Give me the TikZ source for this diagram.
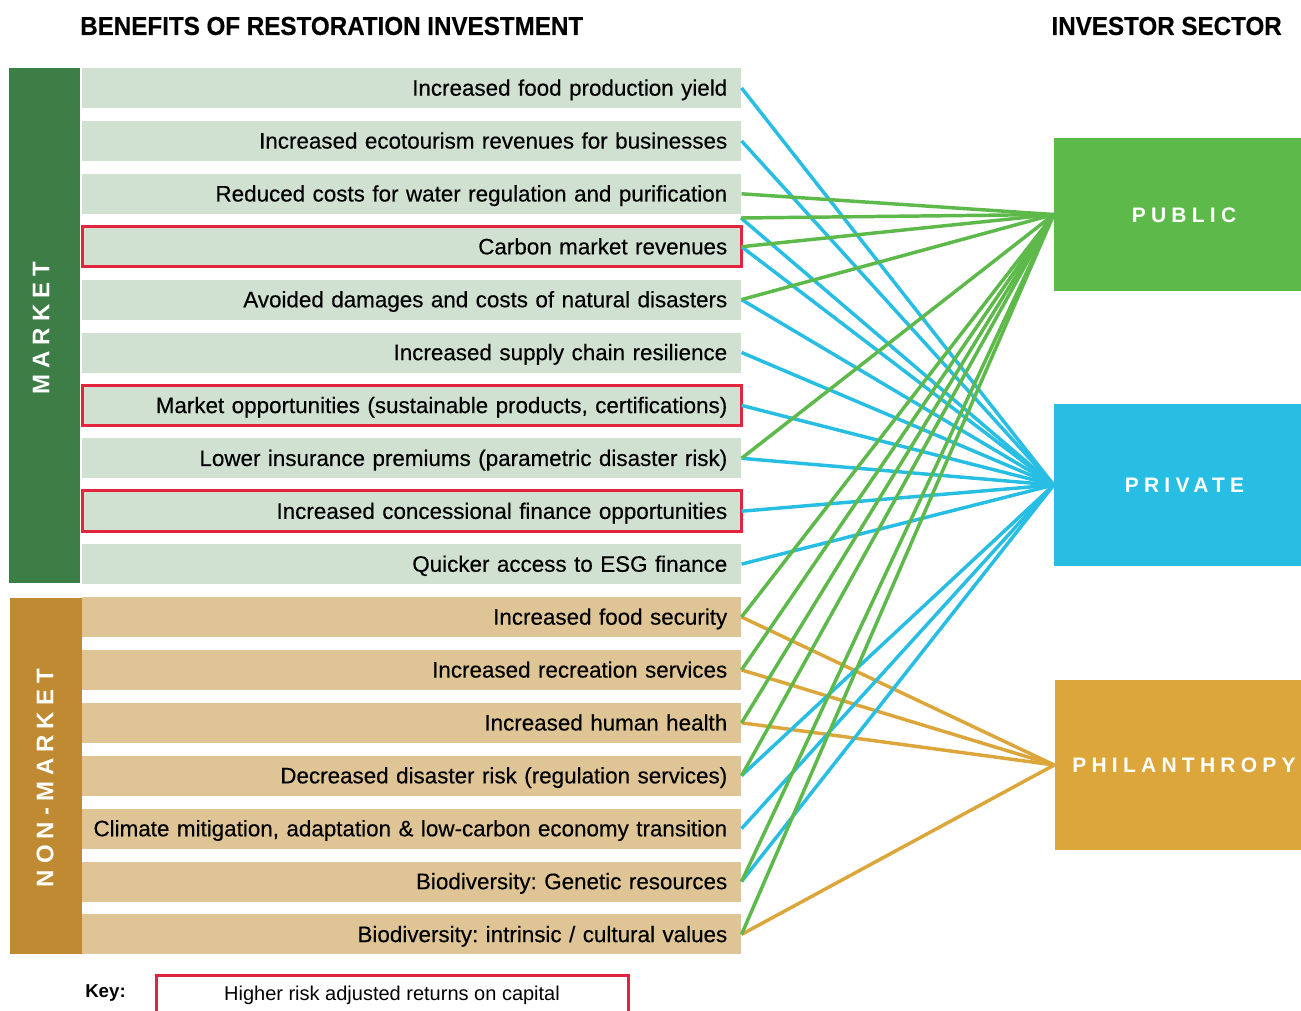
\documentclass[tikz,border=0pt]{standalone}
\usepackage{fontspec}
\setmainfont{Liberation Sans}
\newfontfamily\rowfont{Liberation Sans}[FakeBold=0.35]
\newfontfamily\titlefont{Liberation Sans Bold}[FakeStretch=0.93, FakeBold=0.4]
\newfontfamily\spacedfont{Liberation Sans}[LetterSpace=25]
\newfontfamily\vspacedfont{Liberation Sans}[LetterSpace=25]
\usetikzlibrary{fit}
\definecolor{mktdark}{HTML}{3D7D46}
\definecolor{mktlight}{HTML}{D0E0D1}
\definecolor{nmdark}{HTML}{BF8A31}
\definecolor{nmlight}{HTML}{DFC595}
\definecolor{redc}{HTML}{E2253D}
\definecolor{pubc}{HTML}{5CB94A}
\definecolor{privc}{HTML}{28BDE3}
\definecolor{philc}{HTML}{DCA63B}
\frenchspacing
\begin{document}
\begin{tikzpicture}[x=0.75pt,y=-0.75pt,
  rowbase/.style={anchor=west, minimum height=30pt, text width=473.25pt, align=right,
    inner xsep=10.5pt, inner ysep=0pt, text height=13.5pt, text depth=2pt,
    font=\rowfont\fontsize{16.8}{18}\selectfont},
  mrow/.style={rowbase, fill=mktlight},
  nrow/.style={rowbase, fill=nmlight},
  redbox/.style={draw=redc, line width=2.25pt, inner sep=0pt},
  sector/.style={minimum width=185.25pt, inner sep=0pt},
  seclabel/.style={text=white, font=\spacedfont\bfseries\fontsize{15.75}{18}\selectfont},
  sidelabel/.style={text=white, rotate=90, font=\vspacedfont\bfseries\fontsize{18}{20}\selectfont},
  title/.style={font=\titlefont\fontsize{19.5}{22}\selectfont, inner sep=0pt},
  conn/.style={line width=2.6pt},
  bl/.style={conn, draw=privc},
  gr/.style={conn, draw=pubc},
  og/.style={conn, draw=philc}]
\path[use as bounding box] (0,0) rectangle (1301,1010);

% titles
\node[title, anchor=west] (t1) at (80,26) {BENEFITS OF RESTORATION INVESTMENT};
\node[title, anchor=east] (t2) at (1282,26) {INVESTOR SECTOR};

% side bars
\node[fill=mktdark, minimum width=53.25pt, minimum height=386.25pt, inner sep=0pt] (mbar) at (44.5,325.5) {};
\node[sidelabel] (mlbl) at (41,328) {MARKET};
\node[fill=nmdark, minimum width=54pt, minimum height=267pt, inner sep=0pt] (nbar) at (46,776) {};
\node[sidelabel] (nlbl) at (45,778) {NON-MARKET};

% rows
\foreach \i/\t in {
  1/{Increased food production yield},
  2/{Increased ecotourism revenues for businesses},
  3/{Reduced costs for water regulation and purification},
  4/{Carbon market revenues},
  5/{Avoided damages and costs of natural disasters},
  6/{Increased supply chain resilience},
  7/{Market opportunities (sustainable products, certifications)},
  8/{Lower insurance premiums (parametric disaster risk)},
  9/{Increased concessional finance opportunities},
  10/{Quicker access to ESG finance}}
  \node[mrow] (r\i) at (82,{88+52.9*(\i-1)}) {\makebox[\linewidth][r]{\t}};
\foreach \i/\t in {
  11/{Increased food security},
  12/{Increased recreation services},
  13/{Increased human health},
  14/{Decreased disaster risk (regulation services)},
  15/{Climate mitigation, adaptation \& low-carbon economy transition},
  16/{Biodiversity: Genetic resources},
  17/{Biodiversity: intrinsic / cultural values}}
  \node[nrow] (r\i) at (82,{88+52.9*(\i-1)}) {\makebox[\linewidth][r]{\t}};

\node[redbox, fit=(r4)] (h4) {};
\node[redbox, fit=(r7)] (h7) {};
\node[redbox, fit=(r9)] (h9) {};

% connector start points
\foreach \i in {1,...,17} \coordinate (p\i) at (r\i.east);
\coordinate (p3b) at (741,218);

% sector boxes
\node[sector, fill=pubc, minimum height=114.75pt] (pub) at (1177.5,214.5) {};
\node[sector, fill=privc, minimum height=121.5pt] (priv) at (1177.5,485) {};
\node[sector, fill=philc, minimum height=127.5pt] (phil) at (1178,765) {};

% connectors
\foreach \n in {11,12,13,17} \draw[og] (p\n) -- (phil.west);
\foreach \n in {1,2,3b,4,5,6,7,8,9,10,14,15,16} \draw[bl] (p\n) -- (priv.west);
\foreach \n in {3,3b,4,5,8,11,12,13,14,16,17} \draw[gr] (p\n) -- (pub.west);

\node[seclabel] (publbl) at (1184,215) {PUBLIC};
\node[seclabel] (privlbl) at (1184.5,485) {PRIVATE};
\node[seclabel] (phillbl) at (1184,765) {PHILANTHROPY};

% key
\node[font=\bfseries\fontsize{14}{16}\selectfont, anchor=west, inner sep=0pt] (keylbl) at (85,993) {Key:};
\node[draw=redc, line width=2.25pt, minimum width=354pt, minimum height=30pt, inner sep=0pt,
  font=\fontsize{15}{17}\selectfont] (keybox) at (392,995) {\raisebox{1.5pt}{Higher risk adjusted returns on capital}};
\end{tikzpicture}
\end{document}
